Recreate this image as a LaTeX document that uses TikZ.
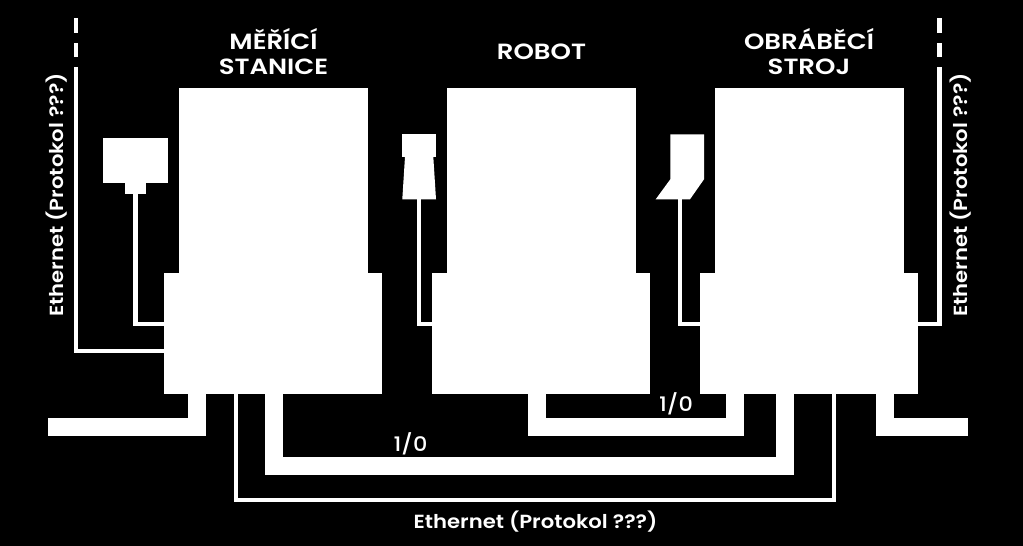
\documentclass[tikz,border=0pt]{standalone}
\usepackage{fontspec}
\setmainfont{Poppins}
\newfontfamily\titlefont[FakeStretch=1.18]{Poppins SemiBold}
\newfontfamily\smallfont[FakeStretch=1.115]{Poppins SemiBold}
\newfontfamily\iofont[FakeStretch=1.12]{Poppins Medium}
\tikzset{
  block/.style={fill=white,draw=none,inner sep=0pt,outer sep=0pt,rectangle},
  thinwire/.style={draw=white,line width=4.2pt,miter limit=10},
  thickwire/.style={draw=white,line width=18pt,miter limit=10},
  title/.style={text=white,font=\titlefont\fontsize{22}{25}\selectfont,align=center,inner sep=0pt},
  small/.style={text=white,font=\smallfont\fontsize{19}{20}\selectfont,inner sep=0pt},
  iolabel/.style={text=white,font=\iofont\fontsize{20}{20}\selectfont,inner sep=0pt},
}
\begin{document}
\begin{tikzpicture}[x=1pt,y=-1pt]
\useasboundingbox[fill=black] (0,0) rectangle (1023,546);
% machine blocks
\node[block,minimum width=189pt,minimum height=186pt] (mu) at (273.5,180.5) {};
\node[block,minimum width=218pt,minimum height=121pt] (ml) at (273,333.5) {};
\node[block,minimum width=189pt,minimum height=186pt] (ru) at (541.5,180.5) {};
\node[block,minimum width=218pt,minimum height=121pt] (rl) at (541.2,333.5) {};
\node[block,minimum width=189pt,minimum height=186pt] (ou) at (809.5,180.5) {};
\node[block,minimum width=218pt,minimum height=121pt] (ol) at (809.3,333.5) {};
% tools
\node[block,minimum width=65pt,minimum height=45pt] (sensor) at (135.5,160.5) {};
\node[block,minimum width=21pt,minimum height=11pt] (stub) at (135.5,188.5) {};
\node[block,minimum width=33.7pt,minimum height=23pt] (gripper) at (419.2,145.8) {};
\coordinate (gripperb) at (419.3,199.3);
\fill[white] (405,156.8) -- (402.3,199.3) -- (436,199.3) -- (433.3,156.8) -- cycle;
\coordinate (cutterb) at (680,199.3);
\fill[white] (670.3,134.3) -- (704,134.3) -- (704,179.3) -- (690,199.3) -- (655.7,199.3) -- (670.3,179.3) -- cycle;
% tool wires
\coordinate (a1) at (164,324);
\coordinate (a2) at (433,324);
\coordinate (a3) at (701,324);
\draw[thinwire] (stub.south) |- (a1);
\draw[thinwire] (gripperb) |- (a2);
\draw[thinwire] (cutterb) |- (a3);
% side ethernet
\coordinate (el) at (75.8,67);
\coordinate (elend) at (164.5,351.3);
\coordinate (er) at (939.5,67);
\coordinate (erend) at (918,323.7);
\draw[thinwire] (el) |- (elend);
\draw[thinwire] (er) |- (erend);
\coordinate (eld1) at (75.8,18); \coordinate (eld2) at (75.8,33);
\coordinate (eld3) at (75.8,43); \coordinate (eld4) at (75.8,57);
\coordinate (erd1) at (939.5,18); \coordinate (erd2) at (939.5,33);
\coordinate (erd3) at (939.5,43); \coordinate (erd4) at (939.5,57);
\draw[thinwire] (eld1) -- (eld2);
\draw[thinwire] (eld3) -- (eld4);
\draw[thinwire] (erd1) -- (erd2);
\draw[thinwire] (erd3) -- (erd4);
% bottom connectors
\coordinate (t1) at (197.3,394); \coordinate (c1) at (197.3,427.2); \coordinate (e1) at (47.7,427.2);
\draw[thickwire] (t1) -- (c1) -- (e1);
\coordinate (t2) at (884.7,394); \coordinate (c2) at (884.7,427.2); \coordinate (e2) at (968.3,427.2);
\draw[thickwire] (t2) -- (c2) -- (e2);
\coordinate (t3) at (273.5,394); \coordinate (c3) at (273.5,466); \coordinate (c3b) at (784.5,466); \coordinate (t3b) at (784.5,394);
\draw[thickwire] (t3) -- (c3) -- (c3b) -- (t3b);
\coordinate (t4) at (537.3,394); \coordinate (c4) at (537.3,427.2); \coordinate (c4b) at (734.7,427.2); \coordinate (t4b) at (734.7,394);
\draw[thickwire] (t4) -- (c4) -- (c4b) -- (t4b);
\coordinate (t5) at (235.8,394); \coordinate (c5) at (235.8,499.8); \coordinate (c5b) at (834.1,499.8); \coordinate (t5b) at (834.1,394);
\draw[thinwire] (t5) -- (c5) -- (c5b) -- (t5b);
% labels
\node[title] (l1) at (273.5,52) {MĚŘÍCÍ\\STANICE};
\node[title] (l2) at (541.5,52) {ROBOT};
\node[title] (l3) at (809,52) {OBRÁBĚCÍ\\STROJ};
\node[small,rotate=90] (l4) at (57,195) {Ethernet (Protokol ???)};
\node[small,rotate=90] (l5) at (961,195) {Ethernet (Protokol ???)};
\node[small] (l6) at (535.5,522) {Ethernet (Protokol ???)};
\node[iolabel] (l7) at (410.5,444) {1/0};
\node[iolabel] (l8) at (676,403.5) {1/0};
\end{tikzpicture}
\end{document}
